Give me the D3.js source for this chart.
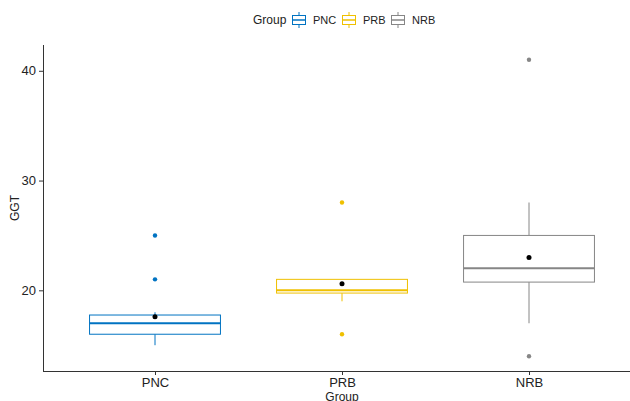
<!DOCTYPE html>
<html><head><meta charset="utf-8">
<script src="https://cdn.jsdelivr.net/npm/d3@7"></script>
<style>body{margin:0;background:#fff}svg{display:block;font-family:"Liberation Sans",Arial,sans-serif}</style>
</head><body><svg id="c" width="630" height="401"></svg>
<script>
const groups = ["PNC","PRB","NRB"];
const colors = ["#0073C2","#EFC000","#868686"];
const q1 = [16, 19.75, 20.75];
const median = [17, 20, 22];
const q3 = [17.75, 21, 25];
const whiskerLow = [15, 19, 17];
const whiskerHigh = [18, 21, 28];
const means = [17.6, 20.6, 23.0];
const outliers = [[25, 21], [28, 16], [41, 14]];
const yTicks = [20, 30, 40];

const svg = d3.select("#c");
const x = d3.scaleBand().domain(groups).range([43, 641]).paddingInner(0).paddingOuter(0.1);
// discrete scale: centers at 155, 342, 529
const xc = d3.scalePoint().domain(groups).range([155, 529]);
const step = xc.step();
const y = d3.scaleLinear().domain([12.65, 42.35]).range([371, 45]);
const bw = step * 0.7;

// boxes
const g = svg.append("g");
groups.forEach((k, i) => {
  const cx = xc(k), c = colors[i];
  g.append("line").attr("x1", cx).attr("x2", cx).attr("y1", y(q3[i])).attr("y2", y(whiskerHigh[i])).attr("stroke", c).attr("stroke-width", 1);
  g.append("line").attr("x1", cx).attr("x2", cx).attr("y1", y(q1[i])).attr("y2", y(whiskerLow[i])).attr("stroke", c).attr("stroke-width", 1);
  g.append("rect").attr("x", cx - bw/2).attr("y", y(q3[i])).attr("width", bw).attr("height", y(q1[i]) - y(q3[i]))
    .attr("fill", "#fff").attr("stroke", c).attr("stroke-width", 1);
  g.append("line").attr("x1", cx - bw/2).attr("x2", cx + bw/2).attr("y1", y(median[i])).attr("y2", y(median[i])).attr("stroke", c).attr("stroke-width", 2);
  outliers[i].forEach(v => g.append("circle").attr("cx", cx).attr("cy", y(v)).attr("r", 2.2).attr("fill", c));
  g.append("circle").attr("cx", cx).attr("cy", y(means[i])).attr("r", 2.5).attr("fill", "#000");
});

// axes
const ya = svg.append("g").attr("transform", "translate(43,0)")
  .call(d3.axisLeft(y).tickValues(yTicks).tickSize(4).tickPadding(3));
const xa = svg.append("g").attr("transform", "translate(0,371)")
  .call(d3.axisBottom(xc).tickSize(4).tickPadding(3));
xa.select(".domain").attr("d", "M43,0.5H641");
[ya, xa].forEach(a => {
  a.selectAll("path,line").attr("stroke", "#333").attr("stroke-width", 1);
  a.selectAll("text").attr("fill", "#222").attr("font-size", 13).attr("font-family", "Liberation Sans, Arial, sans-serif");
});
ya.select(".domain").attr("d", "M0.5,45V371.5");

svg.append("text").attr("transform", "translate(19,208) rotate(-90)").attr("text-anchor", "middle")
  .attr("font-size", 12).attr("fill", "#222").text("GGT");
svg.append("text").attr("x", 342).attr("y", 401).attr("text-anchor", "middle")
  .attr("font-size", 12).attr("fill", "#222").text("Group");

// legend
const lg = svg.append("g");
lg.append("text").attr("x", 253).attr("y", 24).attr("font-size", 12).attr("fill", "#222").text("Group");
const keyX = [292, 342, 391];
groups.forEach((k, i) => {
  const kx = keyX[i], c = colors[i];
  lg.append("line").attr("x1", kx + 7).attr("x2", kx + 7).attr("y1", 12).attr("y2", 28).attr("stroke", c);
  lg.append("rect").attr("x", kx + 0.5).attr("y", 15.5).attr("width", 13).attr("height", 9).attr("fill", "#fff").attr("stroke", c);
  lg.append("line").attr("x1", kx).attr("x2", kx + 14).attr("y1", 20).attr("y2", 20).attr("stroke", c).attr("stroke-width", 1.5);
  lg.append("text").attr("x", kx + 21).attr("y", 24).attr("font-size", 11).attr("fill", "#222").text(k);
});
</script></body></html>
